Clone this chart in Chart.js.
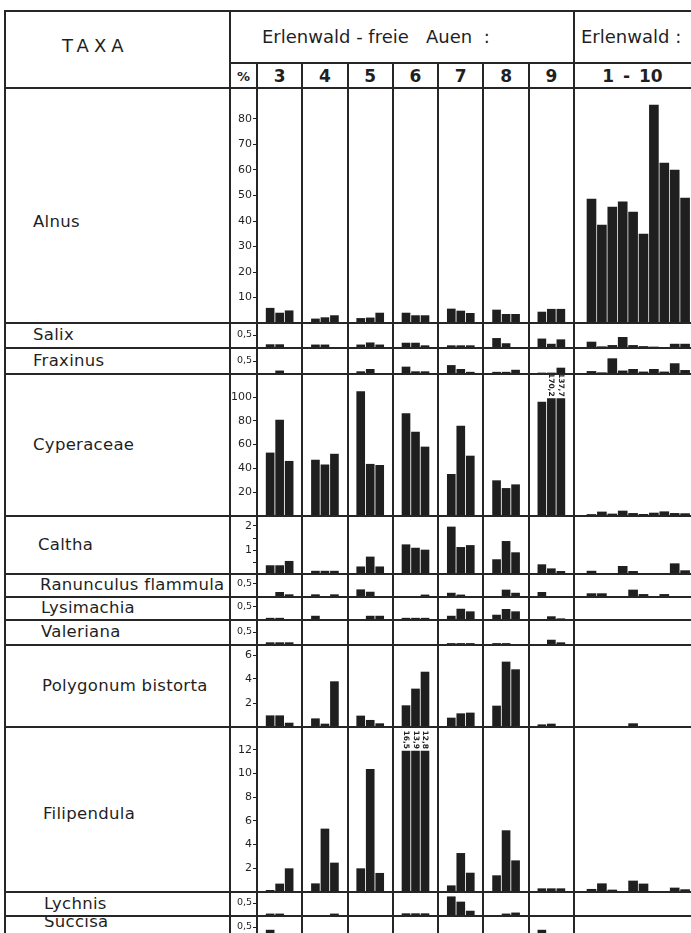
<!DOCTYPE html>
<html>
<head>
<meta charset="utf-8">
<script src="https://cdn.jsdelivr.net/npm/chart.js@4/dist/chart.umd.min.js"></script>
<style>
  html, body { margin: 0; padding: 0; background: #fff; overflow: hidden; }
  #sheet { position: relative; width: 691px; height: 933px; overflow: hidden;
           font-family: "DejaVu Sans", "Liberation Sans", sans-serif; color: #1f1f1f; }
  .ln { position: absolute; background: #262626; }
  .txt { position: absolute; white-space: pre; line-height: 1; }
  canvas { position: absolute; }
</style>
</head>
<body>
<div id="sheet"></div>
<script>
// sample columns and taxa
const sampleCols = ['3', '4', '5', '6', '7', '8', '9'];
const erlCol = '1 - 10';
const taxaNames = ['Alnus', 'Salix', 'Fraxinus', 'Cyperaceae', 'Caltha', 'Ranunculus flammula',
  'Lysimachia', 'Valeriana', 'Polygonum bistorta', 'Filipendula', 'Lychnis', 'Succisa'];

// values in %, three samples per column 3-9, ten samples for Erlenwald 1-10
const alnus = [[5.8, 3.9, 4.8], [1.6, 2.1, 2.9], [1.8, 2.0, 3.9], [3.9, 2.9, 2.9], [5.5, 4.7, 3.8], [5.1, 3.4, 3.4], [4.3, 5.4, 5.4]];
const alnusErl = [48.6, 38.4, 45.5, 47.5, 43.5, 34.9, 85.5, 62.7, 60.0, 49.0];
const salix = [[0.13, 0.13, 0], [0.12, 0.12, 0], [0.12, 0.2, 0.12], [0.19, 0.19, 0.09], [0.09, 0.09, 0.09], [0.37, 0.17, 0], [0.35, 0.15, 0.32]];
const salixErl = [0.23, 0.05, 0.1, 0.41, 0.1, 0.06, 0.04, 0, 0.15, 0.15];
const fraxinus = [[0, 0.12, 0], [0, 0, 0], [0.09, 0.18, 0], [0.27, 0.09, 0.09], [0.33, 0.18, 0.07], [0.07, 0.07, 0.15], [0.04, 0.04, 0.23]];
const fraxinusErl = [0.1, 0.05, 0.59, 0.12, 0.18, 0.08, 0.18, 0.08, 0.4, 0.14];
const cyperaceae = [[53, 80.7, 46], [47, 43, 52], [104.5, 43.5, 42.6], [86, 70.6, 58], [35, 75.6, 50.4], [29.7, 23.2, 26.3], [95.8, 170.2, 137.7]];
const cyperaceaeErl = [1.3, 3.4, 1.7, 4.2, 2.2, 1.4, 2.5, 3.6, 2.2, 2.0];
const caltha = [[0.35, 0.35, 0.53], [0.12, 0.12, 0.12], [0.3, 0.71, 0.3], [1.22, 1.08, 1.0], [1.96, 1.11, 1.19], [0.6, 1.36, 0.89], [0.39, 0.22, 0.11]];
const calthaErl = [0.12, 0, 0, 0.32, 0.11, 0, 0, 0, 0.43, 0.14];
const ranunculus = [[0, 0.18, 0.09], [0.09, 0, 0.09], [0.28, 0.19, 0], [0, 0, 0.08], [0.15, 0.08, 0], [0, 0.27, 0.15], [0.18, 0, 0]];
const ranunculusErl = [0.13, 0.13, 0, 0, 0.27, 0.1, 0, 0.1, 0, 0];
const lysimachia = [[0.07, 0.07, 0], [0.15, 0, 0], [0, 0.15, 0.15], [0.07, 0.07, 0.07], [0.15, 0.42, 0.32], [0.19, 0.41, 0.32], [0, 0.13, 0.05]];
const lysimachiaErl = [0, 0, 0, 0, 0, 0, 0, 0, 0, 0];
const valeriana = [[0.09, 0.09, 0.09], [0, 0, 0], [0, 0, 0], [0, 0, 0], [0.06, 0.06, 0.06], [0.06, 0.06, 0], [0, 0.19, 0.09]];
const valerianaErl = [0, 0, 0, 0, 0, 0, 0, 0, 0, 0];
const polygonum = [[0.94, 0.94, 0.33], [0.69, 0.25, 3.78], [0.92, 0.56, 0.28], [1.78, 3.17, 4.58], [0.75, 1.11, 1.17], [1.75, 5.42, 4.78], [0.19, 0.25, 0]];
const polygonumErl = [0, 0, 0, 0, 0.28, 0, 0, 0, 0, 0];
const filipendula = [[0.14, 0.68, 1.97], [0.7, 5.32, 2.45], [1.97, 10.35, 1.58], [16.5, 13.9, 12.8], [0.53, 3.26, 1.6], [1.38, 5.18, 2.64], [0.28, 0.28, 0.28]];
const filipendulaErl = [0.23, 0.7, 0.17, 0, 0.93, 0.68, 0, 0, 0.34, 0.2];
const lychnis = [[0.08, 0.08, 0], [0, 0, 0.08], [0, 0, 0], [0.09, 0.09, 0.09], [0.74, 0.54, 0.19], [0, 0.08, 0.12], [0, 0, 0]];
const lychnisErl = [0, 0, 0, 0, 0, 0, 0, 0, 0, 0];
const succisa = [[0.38, 0, 0], [0, 0, 0], [0, 0, 0], [0, 0, 0], [0, 0, 0], [0, 0, 0], [0.38, 0, 0]];
const succisaErl = [0, 0, 0, 0, 0, 0, 0, 0, 0, 0];

// y ticks per taxon
const alnusTicks = [10, 20, 30, 40, 50, 60, 70, 80];
const cyperaceaeTicks = [20, 40, 60, 80, 100];
const calthaTicks = [0.5, 1, 1.5, 2];
const calthaTickLabels = ['', '1', '', '2'];
const polygonumTicks = [2, 4, 6];
const filipendulaTicks = [2, 4, 6, 8, 10, 12];
const smallTicks = [0.5];

// bars above cutAbove are drawn broken off at cutAt, with the value written on top
const rows = [
  { vals: alnus, erl: alnusErl, ticks: alnusTicks },
  { vals: salix, erl: salixErl, ticks: smallTicks },
  { vals: fraxinus, erl: fraxinusErl, ticks: smallTicks },
  { vals: cyperaceae, erl: cyperaceaeErl, ticks: cyperaceaeTicks, cutAbove: 120, cutAt: 98.6 },
  { vals: caltha, erl: calthaErl, ticks: calthaTicks, labels: calthaTickLabels },
  { vals: ranunculus, erl: ranunculusErl, ticks: smallTicks },
  { vals: lysimachia, erl: lysimachiaErl, ticks: smallTicks },
  { vals: valeriana, erl: valerianaErl, ticks: smallTicks },
  { vals: polygonum, erl: polygonumErl, ticks: polygonumTicks },
  { vals: filipendula, erl: filipendulaErl, ticks: filipendulaTicks, cutAbove: 12, cutAt: 11.9 },
  { vals: lychnis, erl: lychnisErl, ticks: smallTicks },
  { vals: succisa, erl: succisaErl, ticks: smallTicks }
];

// page layout
const INK = '#1f1f1f';
const FONT = '"DejaVu Sans", "Liberation Sans", sans-serif';
const LEFT = 5, TAXA_R = 230, PCT_R = 257, ERL_L = 574, RIGHT = 691;
const HEAD_TOP = 11, HEAD_MID = 63, HEAD_BOT = 88;
const rowEdges = [88, 323, 348, 374, 516, 574, 597, 620, 645, 727, 892, 916, 940];
const pxPerUnit = [2.55, 26, 26, 1.19, 24, 26, 26, 26, 12, 11.85, 26, 26];
const labelX = [33, 33, 33, 33, 38, 40, 41, 41, 42, 43, 44, 44];
const labelDy = [17, 0, 0, 0, 0, 0, 0, 0, 0, 5, 0, -6];
const COL_W = (ERL_L - PCT_R) / sampleCols.length;
const X_MAX = (RIGHT - PCT_R) / COL_W;
const PITCH = 9.5 / COL_W, ERL_OFF = 17.5 / COL_W, ERL_PITCH = 10.4 / COL_W;

const sheet = document.getElementById('sheet');
const fmt = v => String(v).replace('.', ',');

function line(x, y, w, h) {
  const d = document.createElement('div');
  d.className = 'ln';
  d.style.left = x + 'px'; d.style.top = y + 'px';
  d.style.width = w + 'px'; d.style.height = h + 'px';
  d.style.zIndex = 2;
  sheet.appendChild(d);
}
const hline = (y, x1, x2) => line(x1 - 1, y - 1, x2 - x1 + 2, 2);
const vline = (x, y1, y2) => line(x - 1, y1 - 1, 2, y2 - y1 + 2);

function text(str, x, y, size, opts = {}) {
  const d = document.createElement('div');
  d.className = 'txt';
  d.textContent = str;
  d.style.fontSize = size + 'px';
  d.style.top = (y - size / 2) + 'px';
  d.style.left = x + 'px';
  if (opts.center) d.style.transform = 'translateX(-50%)';
  if (opts.bold) d.style.fontWeight = 'bold';
  if (opts.ls) d.style.letterSpacing = opts.ls + 'px';
  if (opts.ws) d.style.wordSpacing = opts.ws + 'px';
  sheet.appendChild(d);
}

// grid
hline(HEAD_TOP, LEFT, RIGHT);
hline(HEAD_MID, TAXA_R, RIGHT);
rowEdges.forEach(y => hline(y, LEFT, RIGHT));
vline(LEFT, HEAD_TOP, 933);
vline(TAXA_R, HEAD_TOP, 933);
vline(ERL_L, HEAD_TOP, 933);
vline(PCT_R, HEAD_MID, 933);
for (let i = 1; i < sampleCols.length; i++) vline(PCT_R + i * COL_W, HEAD_MID, 933);

// header texts
text('TAXA', 62, 46, 18, { ls: 5 });
text('Erlenwald - freie   Auen  :', 262, 37, 18);
text('Erlenwald :', 581, 37, 18);
text('%', (TAXA_R + PCT_R) / 2, 76, 13, { bold: true, center: true });
sampleCols.forEach((c, i) => text(c, PCT_R + (i + 0.5) * COL_W, 76, 17, { bold: true, center: true }));
text(erlCol, (ERL_L + RIGHT) / 2, 76, 17, { bold: true, center: true, ws: 3 });

// taxon names
taxaNames.forEach((name, i) => {
  const mid = (rowEdges[i] + rowEdges[i + 1]) / 2 + labelDy[i];
  text(name, labelX[i], mid, 16.5, { ls: 0.3 });
});

// value labels on broken-off bars
const cutLabels = {
  id: 'cutLabels',
  afterDatasetsDraw(chart) {
    const ds = chart.data.datasets[0];
    const meta = chart.getDatasetMeta(0);
    const ctx = chart.ctx;
    ctx.save();
    ctx.fillStyle = INK;
    ctx.font = 'bold 7.5px ' + FONT;
    ctx.textAlign = 'right';
    ctx.textBaseline = 'middle';
    meta.data.forEach((bar, j) => {
      const pt = ds.data[j];
      if (pt.val > pt.y) {
        ctx.save();
        ctx.translate(bar.x, bar.y - 2);
        ctx.rotate(Math.PI / 2);
        ctx.fillText(fmt(pt.val), 0, 0);
        ctx.restore();
      }
    });
    ctx.restore();
  }
};

rows.forEach((r, i) => {
  const top = rowEdges[i], h = rowEdges[i + 1] - top;
  const canvas = document.createElement('canvas');
  canvas.width = RIGHT - TAXA_R;
  canvas.height = h;
  canvas.style.left = TAXA_R + 'px';
  canvas.style.top = top + 'px';
  canvas.style.zIndex = 1;
  sheet.appendChild(canvas);

  const shown = v => (r.cutAbove && v > r.cutAbove) ? r.cutAt : v;
  const colPts = [];
  r.vals.forEach((trip, c) => trip.forEach((v, k) => {
    colPts.push({ x: c + 0.5 + (k - 1) * PITCH, y: shown(v), val: v });
  }));
  const erlPts = r.erl.map((v, k) => ({ x: sampleCols.length + ERL_OFF + k * ERL_PITCH, y: v, val: v }));
  const small = r.ticks === smallTicks;

  new Chart(canvas, {
    type: 'bar',
    data: {
      datasets: [
        { data: colPts, backgroundColor: INK, barThickness: 8, grouped: false },
        { data: erlPts, backgroundColor: INK, barThickness: 9, grouped: false }
      ]
    },
    options: {
      responsive: false,
      animation: false,
      events: [],
      layout: { padding: 0 },
      plugins: { legend: { display: false }, tooltip: { enabled: false } },
      scales: {
        x: { type: 'linear', display: false, min: 0, max: X_MAX, offset: false },
        y: {
          min: 0,
          max: h / pxPerUnit[i],
          afterBuildTicks: s => { s.ticks = r.ticks.map(v => ({ value: v })); },
          afterFit: s => { s.width = PCT_R - TAXA_R; s.paddingTop = 0; s.paddingBottom = 0; },
          ticks: {
            autoSkip: false,
            padding: 1,
            color: INK,
            font: { family: FONT, size: small ? 9.5 : 11 },
            callback: (v, idx) => r.labels ? r.labels[idx] : fmt(v)
          },
          grid: { drawOnChartArea: false, drawTicks: true, tickLength: 4, color: INK, lineWidth: 1 },
          border: { display: false }
        }
      }
    },
    plugins: [cutLabels]
  });
});
</script>
</body>
</html>
